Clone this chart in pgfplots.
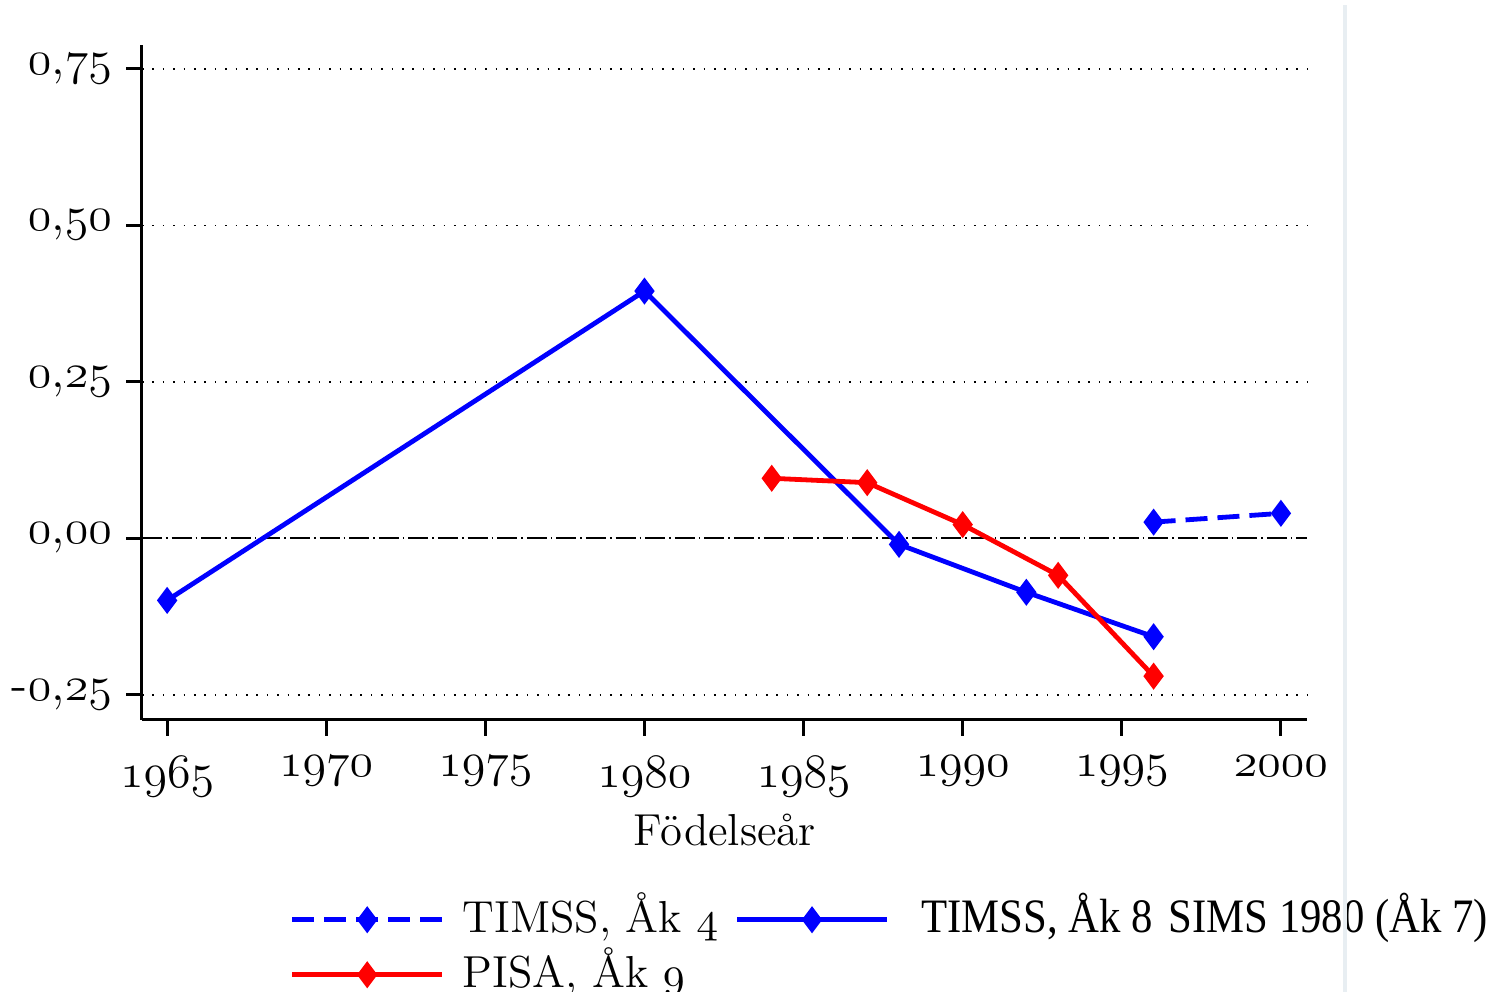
\documentclass[border=0pt]{standalone}
\usepackage{fontspec}
\usepackage{pgfplots}
\pgfplotsset{compat=1.18}
\newfontfamily\tms[FakeStretch=0.89]{Liberation Serif}
\newcommand{\osn}[1]{\ensuremath{\mathnormal{#1}}}
\newcommand{\yz}{\osn{0},\osn{00}}
\definecolor{edgegray}{RGB}{232,238,242}
\begin{document}
\begin{tikzpicture}[font=\fontsize{11.2}{13.4}\selectfont]
\begin{axis}[
  scale only axis,
  width=291.25pt, height=168.75pt,
  xmin=1964.21, xmax=2000.82,
  ymin=-0.29, ymax=0.788,
  axis x line=bottom, axis y line=left,
  axis line style={-, line width=0.75pt},
  tick style={line width=0.75pt, black},
  tick align=outside,
  major tick length=4pt,
  tick label style={font=\fontsize{12.3}{14}\selectfont},
  xticklabel style={yshift=-1.5pt},
  xtick={1965,1970,1975,1980,1985,1990,1995,2000},
  xticklabels={\osn{1965},\osn{1970},\osn{1975},\osn{1980},\osn{1985},\osn{1990},\osn{1995},\osn{2000}},
  ytick={-0.25,0.25,0.5,0.75},
  yticklabels={{-\osn{0},\osn{25}},{\osn{0},\osn{25}},{\osn{0},\osn{50}},{\osn{0},\osn{75}}},
  extra y ticks={0},
  extra y tick labels={\yz},
  extra y tick style={grid=none},
  ymajorgrids,
  major grid style={black, line width=0.4pt, dash pattern=on 0.4pt off 2.2pt},
  xlabel={Födelseår},
  xlabel style={yshift=2.5pt},
  legend columns=2,
  legend style={at={(0.1262,-0.2607)}, anchor=north west, draw=none, fill=none,
    inner sep=0pt, row sep=2.25pt,
    nodes={inner ysep=0pt, text height=9pt, text depth=2.5pt},
    /tikz/every even column/.append style={column sep=0pt}},
  legend cell align=left,
  legend image code/.code={\draw[mark repeat=2,mark phase=2,#1] plot coordinates {(0pt,0pt) (18.75pt,0pt) (37.5pt,0pt)};},
]
\addplot[forget plot, black, line width=0.5pt, dash pattern=on 5pt off 1pt on 0.4pt off 1pt] coordinates {(1964.21,0) (2000.82,0)};
\addplot[blue, line width=1.2pt, dash pattern=on 5.5pt off 2.5pt, mark=diamond*, mark size=2.4pt, mark options={solid, fill=blue}] coordinates {
(1996,0.026) (2000,0.040)};
\addlegendentry{\hspace{2.5pt}\makebox[66pt][l]{TIMSS, Åk \osn{4}}}
\addplot[blue, line width=1.2pt, mark=diamond*, mark size=2.4pt, mark options={solid, fill=blue}] coordinates {
(1965,-0.099) (1980,0.395) (1988,-0.0096) (1992,-0.086) (1996,-0.157)};
\addlegendentry{\hspace{6pt}{\tms\fontsize{12}{14}\selectfont TIMSS, Åk 8\hspace{4pt}SIMS 1980 (Åk 7)}}
\addplot[red, line width=1.2pt, mark=diamond*, mark size=2.4pt, mark options={solid, fill=red}] coordinates {
(1984,0.096) (1987,0.089) (1990,0.022) (1993,-0.059) (1996,-0.220)};
\addlegendentry{\hspace{2.5pt}PISA, Åk \osn{9}}
\end{axis}
\draw[edgegray, line width=1pt] (300.75pt,-68pt) -- (300.75pt,178.75pt);
\pgfresetboundingbox
\useasboundingbox (-35.5pt,-68pt) rectangle (340.25pt,180pt);
\end{tikzpicture}
\end{document}
